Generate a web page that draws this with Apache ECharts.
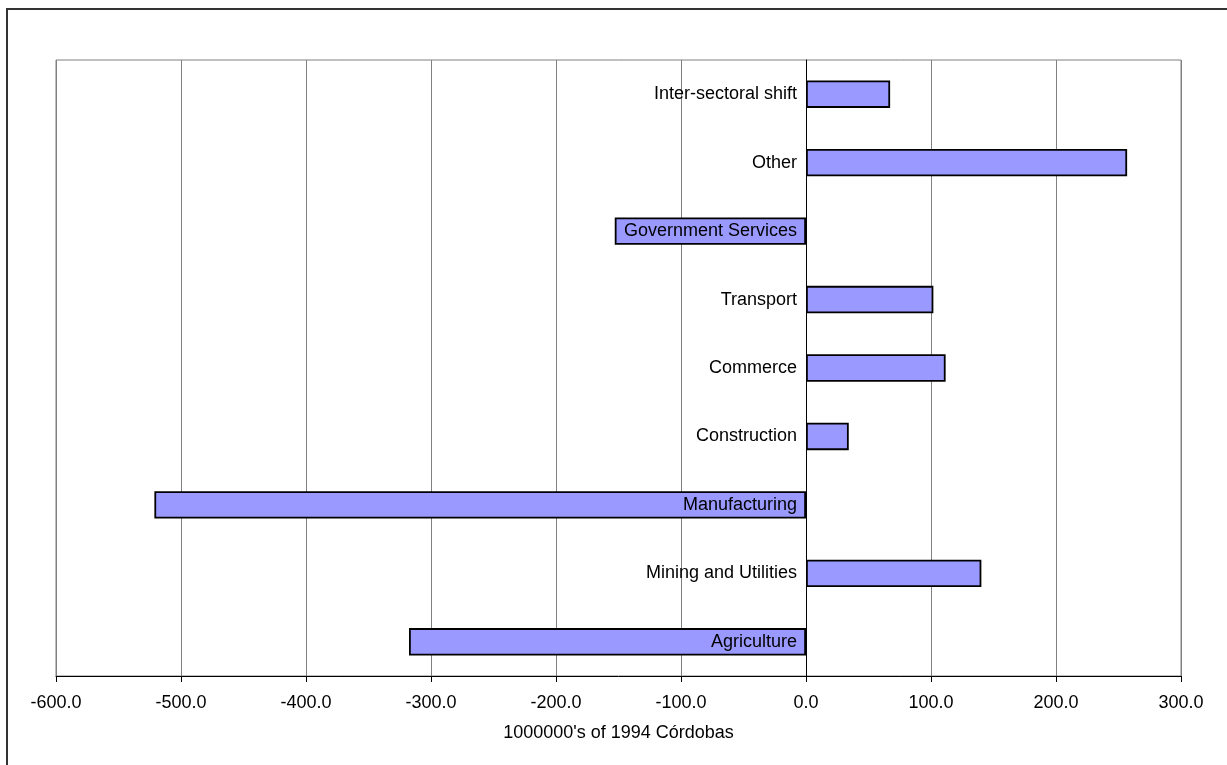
<!DOCTYPE html>
<html>
<head>
<meta charset="utf-8">
<script src="https://cdn.jsdelivr.net/npm/echarts@6/dist/echarts.min.js"></script>
<style>
html,body{margin:0;padding:0;background:#fff;}
#chart{width:1227px;height:765px;}
</style>
</head>
<body>
<div id="chart"></div>
<script>
const categories = ["Agriculture", "Mining and Utilities", "Manufacturing", "Construction", "Commerce", "Transport", "Government Services", "Other", "Inter-sectoral shift"];
const values = [-317.6, 140.3, -521.3, 34.2, 111.7, 101.9, -153.0, 256.9, 67.3];
const xAxisTitle = "1000000's of 1994 Córdobas";

const chart = echarts.init(document.getElementById('chart'), null, {renderer: 'canvas'});
const font = '"Liberation Sans", Arial, sans-serif';
const gridLeft = 56;
chart.setOption({
  animation: false,
  backgroundColor: '#ffffff',
  graphic: [{
    type: 'rect',
    shape: {x: 7, y: 9, width: 1260, height: 800},
    style: {fill: 'none', stroke: '#333333', lineWidth: 2},
    z: -10
  }],
  grid: {left: gridLeft, right: 46, top: 60, bottom: 89, show: true, borderColor: '#808080', borderWidth: 1, containLabel: false, outerBoundsMode: 'none'},
  xAxis: {
    type: 'value', min: -600, max: 300, interval: 100,
    axisLine: {show: true, onZero: false, lineStyle: {color: '#000', width: 1}},
    axisTick: {show: true, length: 6, lineStyle: {color: '#000'}},
    splitLine: {show: true, lineStyle: {color: '#808080', width: 1}},
    axisLabel: {color: '#000', fontSize: 18, fontFamily: font, margin: 18, formatter: v => v.toFixed(1)},
    name: xAxisTitle, nameLocation: 'middle', nameGap: 48,
    nameTextStyle: {color: '#000', fontSize: 18, fontFamily: font}
  },
  yAxis: {
    type: 'category', data: categories, z: 10,
    axisLine: {show: true, onZero: false, lineStyle: {color: '#000', width: 1}},
    axisTick: {show: false},
    splitLine: {show: false},
    axisLabel: {color: '#000', fontSize: 18, fontFamily: font, margin: 9}
  },
  series: [{
    type: 'bar', data: values, barWidth: '40%', z: 2,
    itemStyle: {color: '#9999FF', borderColor: '#000', borderWidth: 1.8}
  }]
});
// move the category axis to the value-axis zero, using the library's own scale
const zeroX = chart.convertToPixel({xAxisIndex: 0}, 0);
chart.setOption({yAxis: {offset: -(zeroX - gridLeft)}});
</script>
</body>
</html>
